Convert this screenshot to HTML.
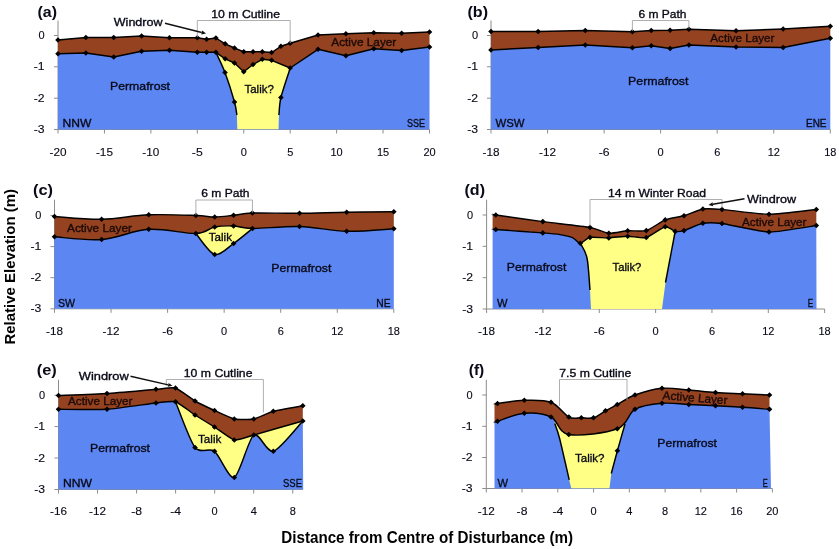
<!DOCTYPE html>
<html><head><meta charset="utf-8"><title>Figure</title>
<style>
html,body{margin:0;padding:0;background:#fff}
svg{display:block}
svg text{font-family:"Liberation Sans", sans-serif}
</style></head><body>
<svg width="839" height="549" viewBox="0 0 839 549">
<rect width="839" height="549" fill="#fff"/>
<path d="M58 20.5V129.5H429.5M54 35.5H58M54 66.8H58M54 98.2H58M54 129.5H58M58 129.5V133.5M104.44 129.5V133.5M150.88 129.5V133.5M197.31 129.5V133.5M243.75 129.5V133.5M290.19 129.5V133.5M336.62 129.5V133.5M383.06 129.5V133.5M429.5 129.5V133.5" fill="none" stroke="#8c8c8c" stroke-width="1"/>
<path d="M58 53.8 C58 53.8 85.86 53 85.86 53 C85.86 53 113.72 57 113.72 57 C113.72 57 141.59 51.3 141.59 51.3 C141.59 51.3 169.45 50.3 169.45 50.3 C169.45 50.3 197.31 52.3 197.31 52.3 C197.31 52.3 206.6 52.3 206.6 52.3 C206.6 52.3 215.89 52.3 215.89 52.3 C215.89 52.3 225.17 58.8 225.17 58.8 C225.17 58.8 234.46 63 234.46 63 C234.46 63 243.75 71.8 243.75 71.8 C243.75 71.8 253.04 64.5 253.04 64.5 C253.04 64.5 262.32 59.3 262.32 59.3 C262.32 59.3 271.61 60.3 271.61 60.3 C271.61 60.3 290.19 68 290.19 68 C290.19 68 318.05 49.3 318.05 49.3 C318.05 49.3 345.91 55.8 345.91 55.8 C345.91 55.8 373.77 48.8 373.77 48.8 C373.77 48.8 401.64 50.5 401.64 50.5 C401.64 50.5 429.5 47 429.5 47 L429.5 129.5 L58 129.5 Z" fill="#5C86F2"/>
<clipPath id="cp1"><path d="M58 53.8 C58 53.8 85.86 53 85.86 53 C85.86 53 113.72 57 113.72 57 C113.72 57 141.59 51.3 141.59 51.3 C141.59 51.3 169.45 50.3 169.45 50.3 C169.45 50.3 197.31 52.3 197.31 52.3 C197.31 52.3 206.6 52.3 206.6 52.3 C206.6 52.3 215.89 52.3 215.89 52.3 C215.89 52.3 225.17 58.8 225.17 58.8 C225.17 58.8 234.46 63 234.46 63 C234.46 63 243.75 71.8 243.75 71.8 C243.75 71.8 253.04 64.5 253.04 64.5 C253.04 64.5 262.32 59.3 262.32 59.3 C262.32 59.3 271.61 60.3 271.61 60.3 C271.61 60.3 290.19 68 290.19 68 C290.19 68 318.05 49.3 318.05 49.3 C318.05 49.3 345.91 55.8 345.91 55.8 C345.91 55.8 373.77 48.8 373.77 48.8 C373.77 48.8 401.64 50.5 401.64 50.5 C401.64 50.5 429.5 47 429.5 47 L429.5 129.5 L58 129.5 Z"/></clipPath>
<path d="M215.9 52.3 C217.11 54.99 222.52 65.87 225 72.5 C227.48 79.13 232.91 96.33 234.5 102 C236.09 107.67 236.58 113.27 236.9 115 L237.3 129.5 L278.6 129.5 L278.9 115 C279.17 112.67 279.39 103.77 280.9 97.5 C282.41 91.23 288.96 71.93 290.2 68 L290 40 L216 40 Z" fill="#FFFF85" clip-path="url(#cp1)"/>
<path d="M58 40 C58 40 85.86 37.5 85.86 37.5 C85.86 37.5 113.72 37.5 113.72 37.5 C113.72 37.5 141.59 36 141.59 36 C141.59 36 169.45 37.8 169.45 37.8 C169.45 37.8 197.31 37.8 197.31 37.8 C197.31 37.8 206.6 39.3 206.6 39.3 C206.6 39.3 215.89 38 215.89 38 C215.89 38 225.17 43.8 225.17 43.8 C225.17 43.8 234.46 48 234.46 48 C234.46 48 243.75 51.8 243.75 51.8 C243.75 51.8 253.04 51.8 253.04 51.8 C253.04 51.8 262.32 51.8 262.32 51.8 C262.32 51.8 271.61 52.5 271.61 52.5 C271.61 52.5 280.9 46.3 280.9 46.3 C280.9 46.3 290.19 43.3 290.19 43.3 C290.19 43.3 318.05 35 318.05 35 C318.05 35 345.91 33.8 345.91 33.8 C345.91 33.8 373.77 32.8 373.77 32.8 C373.77 32.8 401.64 33.3 401.64 33.3 C401.64 33.3 429.5 32 429.5 32 L429.5 47 C429.5 47 401.64 50.5 401.64 50.5 C401.64 50.5 373.77 48.8 373.77 48.8 C373.77 48.8 345.91 55.8 345.91 55.8 C345.91 55.8 318.05 49.3 318.05 49.3 C318.05 49.3 290.19 68 290.19 68 C290.19 68 271.61 60.3 271.61 60.3 C271.61 60.3 262.32 59.3 262.32 59.3 C262.32 59.3 253.04 64.5 253.04 64.5 C253.04 64.5 243.75 71.8 243.75 71.8 C243.75 71.8 234.46 63 234.46 63 C234.46 63 225.17 58.8 225.17 58.8 C225.17 58.8 215.89 52.3 215.89 52.3 C215.89 52.3 206.6 52.3 206.6 52.3 C206.6 52.3 197.31 52.3 197.31 52.3 C197.31 52.3 169.45 50.3 169.45 50.3 C169.45 50.3 141.59 51.3 141.59 51.3 C141.59 51.3 113.72 57 113.72 57 C113.72 57 85.86 53 85.86 53 C85.86 53 58 53.8 58 53.8 Z" fill="#94421F"/>
<path d="M215.9 52.3 C217.11 54.99 222.52 65.87 225 72.5 C227.48 79.13 232.91 96.33 234.5 102 C236.09 107.67 236.58 113.27 236.9 115" fill="none" stroke="#000" stroke-width="1.45" stroke-linejoin="round"/>
<path d="M290.2 68 C288.96 71.93 282.41 91.23 280.9 97.5 C279.39 103.77 279.17 112.67 278.9 115" fill="none" stroke="#000" stroke-width="1.45" stroke-linejoin="round"/>
<path d="M58 40 C58 40 85.86 37.5 85.86 37.5 C85.86 37.5 113.72 37.5 113.72 37.5 C113.72 37.5 141.59 36 141.59 36 C141.59 36 169.45 37.8 169.45 37.8 C169.45 37.8 197.31 37.8 197.31 37.8 C197.31 37.8 206.6 39.3 206.6 39.3 C206.6 39.3 215.89 38 215.89 38 C215.89 38 225.17 43.8 225.17 43.8 C225.17 43.8 234.46 48 234.46 48 C234.46 48 243.75 51.8 243.75 51.8 C243.75 51.8 253.04 51.8 253.04 51.8 C253.04 51.8 262.32 51.8 262.32 51.8 C262.32 51.8 271.61 52.5 271.61 52.5 C271.61 52.5 280.9 46.3 280.9 46.3 C280.9 46.3 290.19 43.3 290.19 43.3 C290.19 43.3 318.05 35 318.05 35 C318.05 35 345.91 33.8 345.91 33.8 C345.91 33.8 373.77 32.8 373.77 32.8 C373.77 32.8 401.64 33.3 401.64 33.3 C401.64 33.3 429.5 32 429.5 32" fill="none" stroke="#000" stroke-width="1.45" stroke-linejoin="round"/>
<path d="M58 53.8 C58 53.8 85.86 53 85.86 53 C85.86 53 113.72 57 113.72 57 C113.72 57 141.59 51.3 141.59 51.3 C141.59 51.3 169.45 50.3 169.45 50.3 C169.45 50.3 197.31 52.3 197.31 52.3 C197.31 52.3 206.6 52.3 206.6 52.3 C206.6 52.3 215.89 52.3 215.89 52.3 C215.89 52.3 225.17 58.8 225.17 58.8 C225.17 58.8 234.46 63 234.46 63 C234.46 63 243.75 71.8 243.75 71.8 C243.75 71.8 253.04 64.5 253.04 64.5 C253.04 64.5 262.32 59.3 262.32 59.3 C262.32 59.3 271.61 60.3 271.61 60.3 C271.61 60.3 290.19 68 290.19 68 C290.19 68 318.05 49.3 318.05 49.3 C318.05 49.3 345.91 55.8 345.91 55.8 C345.91 55.8 373.77 48.8 373.77 48.8 C373.77 48.8 401.64 50.5 401.64 50.5 C401.64 50.5 429.5 47 429.5 47" fill="none" stroke="#000" stroke-width="1.45" stroke-linejoin="round"/>
<path d="M55.2 40l2.8 -2.8l2.8 2.8l-2.8 2.8zM83.06 37.5l2.8 -2.8l2.8 2.8l-2.8 2.8zM110.92 37.5l2.8 -2.8l2.8 2.8l-2.8 2.8zM138.79 36l2.8 -2.8l2.8 2.8l-2.8 2.8zM166.65 37.8l2.8 -2.8l2.8 2.8l-2.8 2.8zM194.51 37.8l2.8 -2.8l2.8 2.8l-2.8 2.8zM203.8 39.3l2.8 -2.8l2.8 2.8l-2.8 2.8zM213.09 38l2.8 -2.8l2.8 2.8l-2.8 2.8zM222.37 43.8l2.8 -2.8l2.8 2.8l-2.8 2.8zM231.66 48l2.8 -2.8l2.8 2.8l-2.8 2.8zM240.95 51.8l2.8 -2.8l2.8 2.8l-2.8 2.8zM250.24 51.8l2.8 -2.8l2.8 2.8l-2.8 2.8zM259.52 51.8l2.8 -2.8l2.8 2.8l-2.8 2.8zM268.81 52.5l2.8 -2.8l2.8 2.8l-2.8 2.8zM278.1 46.3l2.8 -2.8l2.8 2.8l-2.8 2.8zM287.39 43.3l2.8 -2.8l2.8 2.8l-2.8 2.8zM315.25 35l2.8 -2.8l2.8 2.8l-2.8 2.8zM343.11 33.8l2.8 -2.8l2.8 2.8l-2.8 2.8zM370.97 32.8l2.8 -2.8l2.8 2.8l-2.8 2.8zM398.84 33.3l2.8 -2.8l2.8 2.8l-2.8 2.8zM426.7 32l2.8 -2.8l2.8 2.8l-2.8 2.8zM55.2 53.8l2.8 -2.8l2.8 2.8l-2.8 2.8zM83.06 53l2.8 -2.8l2.8 2.8l-2.8 2.8zM110.92 57l2.8 -2.8l2.8 2.8l-2.8 2.8zM138.79 51.3l2.8 -2.8l2.8 2.8l-2.8 2.8zM166.65 50.3l2.8 -2.8l2.8 2.8l-2.8 2.8zM194.51 52.3l2.8 -2.8l2.8 2.8l-2.8 2.8zM203.8 52.3l2.8 -2.8l2.8 2.8l-2.8 2.8zM213.09 52.3l2.8 -2.8l2.8 2.8l-2.8 2.8zM222.37 58.8l2.8 -2.8l2.8 2.8l-2.8 2.8zM231.66 63l2.8 -2.8l2.8 2.8l-2.8 2.8zM240.95 71.8l2.8 -2.8l2.8 2.8l-2.8 2.8zM250.24 64.5l2.8 -2.8l2.8 2.8l-2.8 2.8zM259.52 59.3l2.8 -2.8l2.8 2.8l-2.8 2.8zM268.81 60.3l2.8 -2.8l2.8 2.8l-2.8 2.8zM287.39 68l2.8 -2.8l2.8 2.8l-2.8 2.8zM315.25 49.3l2.8 -2.8l2.8 2.8l-2.8 2.8zM343.11 55.8l2.8 -2.8l2.8 2.8l-2.8 2.8zM370.97 48.8l2.8 -2.8l2.8 2.8l-2.8 2.8zM398.84 50.5l2.8 -2.8l2.8 2.8l-2.8 2.8zM426.7 47l2.8 -2.8l2.8 2.8l-2.8 2.8zM222.2 72.5l2.8 -2.8l2.8 2.8l-2.8 2.8zM231.7 102l2.8 -2.8l2.8 2.8l-2.8 2.8zM278.1 97.5l2.8 -2.8l2.8 2.8l-2.8 2.8z" fill="#000"/>
<path d="M197.3 37V20.5H290.2V43" fill="none" stroke="#a6a6a6" stroke-width="0.9"/>
<path d="M165 23.3L201.73 32.53" stroke="#111" stroke-width="1.4" fill="none"/>
<path d="M206 33.6L201.25 34.47L202.22 30.59z" fill="#111"/>
<text x="37.5" y="17" font-size="15" fill="#0a0a18" font-weight="bold" textLength="19.5" lengthAdjust="spacingAndGlyphs">(a)</text>
<text x="113.8" y="26.2" font-size="11.7" fill="#0a0a18" stroke="#0a0a18" stroke-width="0.35" textLength="48.7" lengthAdjust="spacingAndGlyphs">Windrow</text>
<text x="211.3" y="18.4" font-size="11.7" fill="#0a0a18" stroke="#0a0a18" stroke-width="0.35" textLength="68.7" lengthAdjust="spacingAndGlyphs">10 m Cutline</text>
<text x="331.3" y="45.9" font-size="11.7" fill="#1c0a08" stroke="#1c0a08" stroke-width="0.35" textLength="65" lengthAdjust="spacingAndGlyphs">Active Layer</text>
<text x="110" y="90.4" font-size="11.7" fill="#0a0a18" stroke="#0a0a18" stroke-width="0.35" textLength="60" lengthAdjust="spacingAndGlyphs">Permafrost</text>
<text x="244.5" y="93.4" font-size="11.7" fill="#0a0a18" stroke="#0a0a18" stroke-width="0.35" textLength="29.3" lengthAdjust="spacingAndGlyphs">Talik?</text>
<text x="62.5" y="127.4" font-size="11.7" fill="#0a0a18" stroke="#0a0a18" stroke-width="0.35" textLength="28.8" lengthAdjust="spacingAndGlyphs">NNW</text>
<text x="407" y="126.7" font-size="11.7" fill="#0a0a18" stroke="#0a0a18" stroke-width="0.35" textLength="18" lengthAdjust="spacingAndGlyphs">SSE</text>
<text x="38.38" y="39" font-size="11" fill="#0a0a18" stroke="#0a0a18" stroke-width="0.12" textLength="6.12" lengthAdjust="spacingAndGlyphs">0</text>
<text x="33.65" y="70.3" font-size="11" fill="#0a0a18" stroke="#0a0a18" stroke-width="0.12" textLength="10.85" lengthAdjust="spacingAndGlyphs">-1</text>
<text x="33.65" y="101.7" font-size="11" fill="#0a0a18" stroke="#0a0a18" stroke-width="0.12" textLength="10.85" lengthAdjust="spacingAndGlyphs">-2</text>
<text x="33.65" y="133" font-size="11" fill="#0a0a18" stroke="#0a0a18" stroke-width="0.12" textLength="10.85" lengthAdjust="spacingAndGlyphs">-3</text>
<text x="49.52" y="155.9" font-size="11" fill="#0a0a18" stroke="#0a0a18" stroke-width="0.12" textLength="16.96" lengthAdjust="spacingAndGlyphs">-20</text>
<text x="95.96" y="155.9" font-size="11" fill="#0a0a18" stroke="#0a0a18" stroke-width="0.12" textLength="16.96" lengthAdjust="spacingAndGlyphs">-15</text>
<text x="142.39" y="155.9" font-size="11" fill="#0a0a18" stroke="#0a0a18" stroke-width="0.12" textLength="16.96" lengthAdjust="spacingAndGlyphs">-10</text>
<text x="191.89" y="155.9" font-size="11" fill="#0a0a18" stroke="#0a0a18" stroke-width="0.12" textLength="10.85" lengthAdjust="spacingAndGlyphs">-5</text>
<text x="240.69" y="155.9" font-size="11" fill="#0a0a18" stroke="#0a0a18" stroke-width="0.12" textLength="6.12" lengthAdjust="spacingAndGlyphs">0</text>
<text x="287.13" y="155.9" font-size="11" fill="#0a0a18" stroke="#0a0a18" stroke-width="0.12" textLength="6.12" lengthAdjust="spacingAndGlyphs">5</text>
<text x="330.51" y="155.9" font-size="11" fill="#0a0a18" stroke="#0a0a18" stroke-width="0.12" textLength="12.23" lengthAdjust="spacingAndGlyphs">10</text>
<text x="376.95" y="155.9" font-size="11" fill="#0a0a18" stroke="#0a0a18" stroke-width="0.12" textLength="12.23" lengthAdjust="spacingAndGlyphs">15</text>
<text x="423.38" y="155.9" font-size="11" fill="#0a0a18" stroke="#0a0a18" stroke-width="0.12" textLength="12.23" lengthAdjust="spacingAndGlyphs">20</text>
<path d="M491 20.5V129.5H830.3M487 35.5H491M487 66.8H491M487 98.2H491M487 129.5H491M491 129.5V133.5M547.55 129.5V133.5M604.1 129.5V133.5M660.65 129.5V133.5M717.2 129.5V133.5M773.75 129.5V133.5M830.3 129.5V133.5" fill="none" stroke="#8c8c8c" stroke-width="1"/>
<path d="M491 50 C491 50 538.12 47.5 538.12 47.5 C538.12 47.5 585.25 45 585.25 45 C585.25 45 632.38 47.8 632.38 47.8 C632.38 47.8 651.23 45.8 651.23 45.8 C651.23 45.8 670.08 48.5 670.08 48.5 C670.08 48.5 688.92 45 688.92 45 C688.92 45 736.05 47 736.05 47 C736.05 47 783.17 47.5 783.17 47.5 C783.17 47.5 830.3 38.3 830.3 38.3 L830.3 129.5 L491 129.5 Z" fill="#5C86F2"/>
<path d="M491 31.5 C491 31.5 538.12 31.5 538.12 31.5 C538.12 31.5 585.25 30.5 585.25 30.5 C585.25 30.5 632.38 31.8 632.38 31.8 C632.38 31.8 651.23 30.5 651.23 30.5 C651.23 30.5 670.08 30.3 670.08 30.3 C670.08 30.3 688.92 29.3 688.92 29.3 C688.92 29.3 736.05 30.8 736.05 30.8 C736.05 30.8 783.17 29 783.17 29 C783.17 29 830.3 26.3 830.3 26.3 L830.3 38.3 C830.3 38.3 783.17 47.5 783.17 47.5 C783.17 47.5 736.05 47 736.05 47 C736.05 47 688.92 45 688.92 45 C688.92 45 670.08 48.5 670.08 48.5 C670.08 48.5 651.23 45.8 651.23 45.8 C651.23 45.8 632.38 47.8 632.38 47.8 C632.38 47.8 585.25 45 585.25 45 C585.25 45 538.12 47.5 538.12 47.5 C538.12 47.5 491 50 491 50 Z" fill="#94421F"/>
<path d="M491 31.5 C491 31.5 538.12 31.5 538.12 31.5 C538.12 31.5 585.25 30.5 585.25 30.5 C585.25 30.5 632.38 31.8 632.38 31.8 C632.38 31.8 651.23 30.5 651.23 30.5 C651.23 30.5 670.08 30.3 670.08 30.3 C670.08 30.3 688.92 29.3 688.92 29.3 C688.92 29.3 736.05 30.8 736.05 30.8 C736.05 30.8 783.17 29 783.17 29 C783.17 29 830.3 26.3 830.3 26.3" fill="none" stroke="#000" stroke-width="1.45" stroke-linejoin="round"/>
<path d="M491 50 C491 50 538.12 47.5 538.12 47.5 C538.12 47.5 585.25 45 585.25 45 C585.25 45 632.38 47.8 632.38 47.8 C632.38 47.8 651.23 45.8 651.23 45.8 C651.23 45.8 670.08 48.5 670.08 48.5 C670.08 48.5 688.92 45 688.92 45 C688.92 45 736.05 47 736.05 47 C736.05 47 783.17 47.5 783.17 47.5 C783.17 47.5 830.3 38.3 830.3 38.3" fill="none" stroke="#000" stroke-width="1.45" stroke-linejoin="round"/>
<path d="M488.2 31.5l2.8 -2.8l2.8 2.8l-2.8 2.8zM535.33 31.5l2.8 -2.8l2.8 2.8l-2.8 2.8zM582.45 30.5l2.8 -2.8l2.8 2.8l-2.8 2.8zM629.58 31.8l2.8 -2.8l2.8 2.8l-2.8 2.8zM648.43 30.5l2.8 -2.8l2.8 2.8l-2.8 2.8zM667.28 30.3l2.8 -2.8l2.8 2.8l-2.8 2.8zM686.12 29.3l2.8 -2.8l2.8 2.8l-2.8 2.8zM733.25 30.8l2.8 -2.8l2.8 2.8l-2.8 2.8zM780.38 29l2.8 -2.8l2.8 2.8l-2.8 2.8zM827.5 26.3l2.8 -2.8l2.8 2.8l-2.8 2.8zM488.2 50l2.8 -2.8l2.8 2.8l-2.8 2.8zM535.33 47.5l2.8 -2.8l2.8 2.8l-2.8 2.8zM582.45 45l2.8 -2.8l2.8 2.8l-2.8 2.8zM629.58 47.8l2.8 -2.8l2.8 2.8l-2.8 2.8zM648.43 45.8l2.8 -2.8l2.8 2.8l-2.8 2.8zM667.28 48.5l2.8 -2.8l2.8 2.8l-2.8 2.8zM686.12 45l2.8 -2.8l2.8 2.8l-2.8 2.8zM733.25 47l2.8 -2.8l2.8 2.8l-2.8 2.8zM780.38 47.5l2.8 -2.8l2.8 2.8l-2.8 2.8zM827.5 38.3l2.8 -2.8l2.8 2.8l-2.8 2.8z" fill="#000"/>
<path d="M632.4 31V20.5H688.9V28.5" fill="none" stroke="#a6a6a6" stroke-width="0.9"/>
<text x="467.5" y="17" font-size="15" fill="#0a0a18" font-weight="bold" textLength="20.5" lengthAdjust="spacingAndGlyphs">(b)</text>
<text x="638.5" y="18.4" font-size="11.7" fill="#0a0a18" stroke="#0a0a18" stroke-width="0.35" textLength="48" lengthAdjust="spacingAndGlyphs">6 m Path</text>
<text x="710.3" y="42.4" font-size="11.7" fill="#1c0a08" stroke="#1c0a08" stroke-width="0.35" textLength="64.2" lengthAdjust="spacingAndGlyphs">Active Layer</text>
<text x="628" y="85.4" font-size="11.7" fill="#0a0a18" stroke="#0a0a18" stroke-width="0.35" textLength="60.5" lengthAdjust="spacingAndGlyphs">Permafrost</text>
<text x="495.5" y="126.7" font-size="11.7" fill="#0a0a18" stroke="#0a0a18" stroke-width="0.35" textLength="29" lengthAdjust="spacingAndGlyphs">WSW</text>
<text x="806" y="126.7" font-size="11.7" fill="#0a0a18" stroke="#0a0a18" stroke-width="0.35" textLength="20.5" lengthAdjust="spacingAndGlyphs">ENE</text>
<text x="471.88" y="39" font-size="11" fill="#0a0a18" stroke="#0a0a18" stroke-width="0.12" textLength="6.12" lengthAdjust="spacingAndGlyphs">0</text>
<text x="467.15" y="70.3" font-size="11" fill="#0a0a18" stroke="#0a0a18" stroke-width="0.12" textLength="10.85" lengthAdjust="spacingAndGlyphs">-1</text>
<text x="467.15" y="101.7" font-size="11" fill="#0a0a18" stroke="#0a0a18" stroke-width="0.12" textLength="10.85" lengthAdjust="spacingAndGlyphs">-2</text>
<text x="467.15" y="133" font-size="11" fill="#0a0a18" stroke="#0a0a18" stroke-width="0.12" textLength="10.85" lengthAdjust="spacingAndGlyphs">-3</text>
<text x="482.52" y="155.9" font-size="11" fill="#0a0a18" stroke="#0a0a18" stroke-width="0.12" textLength="16.96" lengthAdjust="spacingAndGlyphs">-18</text>
<text x="539.07" y="155.9" font-size="11" fill="#0a0a18" stroke="#0a0a18" stroke-width="0.12" textLength="16.96" lengthAdjust="spacingAndGlyphs">-12</text>
<text x="598.68" y="155.9" font-size="11" fill="#0a0a18" stroke="#0a0a18" stroke-width="0.12" textLength="10.85" lengthAdjust="spacingAndGlyphs">-6</text>
<text x="657.59" y="155.9" font-size="11" fill="#0a0a18" stroke="#0a0a18" stroke-width="0.12" textLength="6.12" lengthAdjust="spacingAndGlyphs">0</text>
<text x="714.14" y="155.9" font-size="11" fill="#0a0a18" stroke="#0a0a18" stroke-width="0.12" textLength="6.12" lengthAdjust="spacingAndGlyphs">6</text>
<text x="767.63" y="155.9" font-size="11" fill="#0a0a18" stroke="#0a0a18" stroke-width="0.12" textLength="12.23" lengthAdjust="spacingAndGlyphs">12</text>
<text x="824.18" y="155.9" font-size="11" fill="#0a0a18" stroke="#0a0a18" stroke-width="0.12" textLength="12.23" lengthAdjust="spacingAndGlyphs">18</text>
<path d="M54.5 199.7V308.8H393.8M50.5 215.5H54.5M50.5 246.6H54.5M50.5 277.7H54.5M50.5 308.8H54.5M54.5 308.8V312.8M111.05 308.8V312.8M167.6 308.8V312.8M224.15 308.8V312.8M280.7 308.8V312.8M337.25 308.8V312.8M393.8 308.8V312.8" fill="none" stroke="#8c8c8c" stroke-width="1"/>
<path d="M54.5 236.8 C62.35 237.25 85.92 240.75 101.62 239.5 C117.33 238.25 133.04 230.3 148.75 229.3 C164.46 228.3 184.88 233.88 195.88 233.5 C206.87 233.12 208.44 228.25 214.73 227 C221.01 225.75 227.29 225.75 233.58 226 C239.86 226.25 241.43 228.42 252.43 228.5 C263.42 228.58 283.84 226.03 299.55 226.5 C315.26 226.97 330.97 230.92 346.68 231.3 C362.38 231.68 385.95 229.22 393.8 228.8 L393.8 308.8 L54.5 308.8 Z" fill="#5C86F2"/>
<clipPath id="cp3"><path d="M54.5 236.8 C62.35 237.25 85.92 240.75 101.62 239.5 C117.33 238.25 133.04 230.3 148.75 229.3 C164.46 228.3 184.88 233.88 195.88 233.5 C206.87 233.12 208.44 228.25 214.73 227 C221.01 225.75 227.29 225.75 233.58 226 C239.86 226.25 241.43 228.42 252.43 228.5 C263.42 228.58 283.84 226.03 299.55 226.5 C315.26 226.97 330.97 230.92 346.68 231.3 C362.38 231.68 385.95 229.22 393.8 228.8 L393.8 308.8 L54.5 308.8 Z"/></clipPath>
<path d="M195.88 233.5 C198.7 236.65 209.07 253 214.73 254.5 C220.38 256 227.92 247.4 233.58 243.5 C239.23 239.6 249.6 230.75 252.43 228.5 L252.43 220 L195.88 220 Z" fill="#FFFF85" clip-path="url(#cp3)"/>
<path d="M54.5 216.5 C62.35 216.97 85.92 219.58 101.62 219.3 C117.33 219.02 133.04 215.43 148.75 214.8 C164.46 214.17 184.88 215.13 195.88 215.5 C206.87 215.87 208.44 217.03 214.73 217 C221.01 216.97 227.29 215.97 233.58 215.3 C239.86 214.63 241.43 213.33 252.43 213 C263.42 212.67 283.84 213.43 299.55 213.3 C315.26 213.17 330.97 212.45 346.68 212.2 C362.38 211.95 385.95 211.87 393.8 211.8 L393.8 228.8 C385.95 229.22 362.38 231.68 346.68 231.3 C330.97 230.92 315.26 226.97 299.55 226.5 C283.84 226.03 263.42 228.58 252.43 228.5 C241.43 228.42 239.86 226.25 233.58 226 C227.29 225.75 221.01 225.75 214.73 227 C208.44 228.25 206.87 233.12 195.88 233.5 C184.88 233.88 164.46 228.3 148.75 229.3 C133.04 230.3 117.33 238.25 101.62 239.5 C85.92 240.75 62.35 237.25 54.5 236.8 Z" fill="#94421F"/>
<path d="M195.88 233.5 C198.7 236.65 209.07 253 214.73 254.5 C220.38 256 227.92 247.4 233.58 243.5 C239.23 239.6 249.6 230.75 252.43 228.5" fill="none" stroke="#000" stroke-width="1.45" stroke-linejoin="round"/>
<path d="M54.5 216.5 C62.35 216.97 85.92 219.58 101.62 219.3 C117.33 219.02 133.04 215.43 148.75 214.8 C164.46 214.17 184.88 215.13 195.88 215.5 C206.87 215.87 208.44 217.03 214.73 217 C221.01 216.97 227.29 215.97 233.58 215.3 C239.86 214.63 241.43 213.33 252.43 213 C263.42 212.67 283.84 213.43 299.55 213.3 C315.26 213.17 330.97 212.45 346.68 212.2 C362.38 211.95 385.95 211.87 393.8 211.8" fill="none" stroke="#000" stroke-width="1.45" stroke-linejoin="round"/>
<path d="M54.5 236.8 C62.35 237.25 85.92 240.75 101.62 239.5 C117.33 238.25 133.04 230.3 148.75 229.3 C164.46 228.3 184.88 233.88 195.88 233.5 C206.87 233.12 208.44 228.25 214.73 227 C221.01 225.75 227.29 225.75 233.58 226 C239.86 226.25 241.43 228.42 252.43 228.5 C263.42 228.58 283.84 226.03 299.55 226.5 C315.26 226.97 330.97 230.92 346.68 231.3 C362.38 231.68 385.95 229.22 393.8 228.8" fill="none" stroke="#000" stroke-width="1.45" stroke-linejoin="round"/>
<path d="M51.7 216.5l2.8 -2.8l2.8 2.8l-2.8 2.8zM98.83 219.3l2.8 -2.8l2.8 2.8l-2.8 2.8zM145.95 214.8l2.8 -2.8l2.8 2.8l-2.8 2.8zM193.07 215.5l2.8 -2.8l2.8 2.8l-2.8 2.8zM211.93 217l2.8 -2.8l2.8 2.8l-2.8 2.8zM230.78 215.3l2.8 -2.8l2.8 2.8l-2.8 2.8zM249.62 213l2.8 -2.8l2.8 2.8l-2.8 2.8zM296.75 213.3l2.8 -2.8l2.8 2.8l-2.8 2.8zM343.88 212.2l2.8 -2.8l2.8 2.8l-2.8 2.8zM391 211.8l2.8 -2.8l2.8 2.8l-2.8 2.8zM51.7 236.8l2.8 -2.8l2.8 2.8l-2.8 2.8zM98.83 239.5l2.8 -2.8l2.8 2.8l-2.8 2.8zM145.95 229.3l2.8 -2.8l2.8 2.8l-2.8 2.8zM193.07 233.5l2.8 -2.8l2.8 2.8l-2.8 2.8zM211.93 227l2.8 -2.8l2.8 2.8l-2.8 2.8zM230.78 226l2.8 -2.8l2.8 2.8l-2.8 2.8zM249.62 228.5l2.8 -2.8l2.8 2.8l-2.8 2.8zM296.75 226.5l2.8 -2.8l2.8 2.8l-2.8 2.8zM343.88 231.3l2.8 -2.8l2.8 2.8l-2.8 2.8zM391 228.8l2.8 -2.8l2.8 2.8l-2.8 2.8zM211.93 254.5l2.8 -2.8l2.8 2.8l-2.8 2.8zM230.78 243.5l2.8 -2.8l2.8 2.8l-2.8 2.8z" fill="#000"/>
<path d="M195.88 215V200H252.43V212.5" fill="none" stroke="#a6a6a6" stroke-width="0.9"/>
<text x="33" y="195" font-size="15" fill="#0a0a18" font-weight="bold" textLength="20" lengthAdjust="spacingAndGlyphs">(c)</text>
<text x="201.3" y="197.4" font-size="11.7" fill="#0a0a18" stroke="#0a0a18" stroke-width="0.35" textLength="48.2" lengthAdjust="spacingAndGlyphs">6 m Path</text>
<text x="67" y="231.7" font-size="11.7" fill="#1c0a08" stroke="#1c0a08" stroke-width="0.35" textLength="65" lengthAdjust="spacingAndGlyphs">Active Layer</text>
<text x="208.8" y="241.2" font-size="11.7" fill="#0a0a18" stroke="#0a0a18" stroke-width="0.35" textLength="23.2" lengthAdjust="spacingAndGlyphs">Talik</text>
<text x="271.3" y="272.4" font-size="11.7" fill="#0a0a18" stroke="#0a0a18" stroke-width="0.35" textLength="60" lengthAdjust="spacingAndGlyphs">Permafrost</text>
<text x="58" y="306.9" font-size="11.7" fill="#0a0a18" stroke="#0a0a18" stroke-width="0.35" textLength="17" lengthAdjust="spacingAndGlyphs">SW</text>
<text x="376.3" y="307.4" font-size="11.7" fill="#0a0a18" stroke="#0a0a18" stroke-width="0.35" textLength="14.2" lengthAdjust="spacingAndGlyphs">NE</text>
<text x="35.18" y="219" font-size="11" fill="#0a0a18" stroke="#0a0a18" stroke-width="0.12" textLength="6.12" lengthAdjust="spacingAndGlyphs">0</text>
<text x="30.45" y="250.1" font-size="11" fill="#0a0a18" stroke="#0a0a18" stroke-width="0.12" textLength="10.85" lengthAdjust="spacingAndGlyphs">-1</text>
<text x="30.45" y="281.2" font-size="11" fill="#0a0a18" stroke="#0a0a18" stroke-width="0.12" textLength="10.85" lengthAdjust="spacingAndGlyphs">-2</text>
<text x="30.45" y="312.3" font-size="11" fill="#0a0a18" stroke="#0a0a18" stroke-width="0.12" textLength="10.85" lengthAdjust="spacingAndGlyphs">-3</text>
<text x="46.02" y="334.6" font-size="11" fill="#0a0a18" stroke="#0a0a18" stroke-width="0.12" textLength="16.96" lengthAdjust="spacingAndGlyphs">-18</text>
<text x="102.57" y="334.6" font-size="11" fill="#0a0a18" stroke="#0a0a18" stroke-width="0.12" textLength="16.96" lengthAdjust="spacingAndGlyphs">-12</text>
<text x="162.18" y="334.6" font-size="11" fill="#0a0a18" stroke="#0a0a18" stroke-width="0.12" textLength="10.85" lengthAdjust="spacingAndGlyphs">-6</text>
<text x="221.09" y="334.6" font-size="11" fill="#0a0a18" stroke="#0a0a18" stroke-width="0.12" textLength="6.12" lengthAdjust="spacingAndGlyphs">0</text>
<text x="277.64" y="334.6" font-size="11" fill="#0a0a18" stroke="#0a0a18" stroke-width="0.12" textLength="6.12" lengthAdjust="spacingAndGlyphs">6</text>
<text x="331.13" y="334.6" font-size="11" fill="#0a0a18" stroke="#0a0a18" stroke-width="0.12" textLength="12.23" lengthAdjust="spacingAndGlyphs">12</text>
<text x="387.68" y="334.6" font-size="11" fill="#0a0a18" stroke="#0a0a18" stroke-width="0.12" textLength="12.23" lengthAdjust="spacingAndGlyphs">18</text>
<path d="M486.6 199.7V309H824.64M482.6 215H486.6M482.6 246.3H486.6M482.6 277.7H486.6M482.6 309H486.6M486.6 309V313M542.94 309V313M599.28 309V313M655.62 309V313M711.96 309V313M768.3 309V313M824.64 309V313" fill="none" stroke="#8c8c8c" stroke-width="1"/>
<path d="M492.6 229.3 C492.92 229.32 490.78 229.14 495.8 229.5 C500.82 229.86 536.38 232.39 542.8 232.9 C549.22 233.41 557.03 234.13 560 234.6 C562.97 235.07 570.47 236.73 572.5 237.6 C574.53 238.47 578.55 243.32 580.3 243.3 C582.05 243.28 587.15 237.94 590 237.4 C592.85 236.86 605.03 238.02 608.8 237.9 C612.57 237.78 623.95 236.24 627.7 236.2 C631.45 236.16 642.55 238.44 646.3 237.5 C650.05 236.56 662.31 227.41 665.2 226.8 C668.09 226.19 673.32 231.02 675.2 231.4 C677.08 231.78 681.23 231.41 684 230.6 C686.77 229.79 699.1 224.01 702.9 223.3 C706.7 222.59 715.39 222.63 722 223.5 C728.61 224.37 759.57 231.8 769 232 C778.43 232.2 811.57 226.15 816.3 225.5 L816.5 309 L492.6 309 Z" fill="#5C86F2"/>
<clipPath id="cp4"><path d="M492.6 229.3 C492.92 229.32 490.78 229.14 495.8 229.5 C500.82 229.86 536.38 232.39 542.8 232.9 C549.22 233.41 557.03 234.13 560 234.6 C562.97 235.07 570.47 236.73 572.5 237.6 C574.53 238.47 578.55 243.32 580.3 243.3 C582.05 243.28 587.15 237.94 590 237.4 C592.85 236.86 605.03 238.02 608.8 237.9 C612.57 237.78 623.95 236.24 627.7 236.2 C631.45 236.16 642.55 238.44 646.3 237.5 C650.05 236.56 662.31 227.41 665.2 226.8 C668.09 226.19 673.32 231.02 675.2 231.4 C677.08 231.78 681.23 231.41 684 230.6 C686.77 229.79 699.1 224.01 702.9 223.3 C706.7 222.59 715.39 222.63 722 223.5 C728.61 224.37 759.57 231.8 769 232 C778.43 232.2 811.57 226.15 816.3 225.5 L816.5 309 L492.6 309 Z"/></clipPath>
<path d="M580.3 243.3 C581.42 245.75 585.38 250.22 587 258 C588.62 265.78 589.5 284.67 590 290 L591 309 L662 309 L665.5 282.5 L675.2 231.4 L675 222 L580 225 Z" fill="#FFFF85" clip-path="url(#cp4)"/>
<path d="M492.6 214.6 C492.92 214.64 490.78 214.3 495.8 215 C500.82 215.7 533.38 220.36 542.8 221.6 C552.22 222.84 583.4 226.23 590 227.4 C596.6 228.57 605.03 232.96 608.8 233.3 C612.57 233.64 623.95 231.07 627.7 230.8 C631.45 230.53 642.55 231.69 646.3 230.6 C650.05 229.51 661.43 221.39 665.2 219.9 C668.97 218.41 680.23 216.79 684 215.7 C687.77 214.61 699.1 209.63 702.9 209 C706.7 208.37 715.39 208.87 722 209.4 C728.61 209.93 759.57 214.29 769 214.3 C778.43 214.31 811.57 209.98 816.3 209.5 L816.3 225.5 C811.57 226.15 778.43 232.2 769 232 C759.57 231.8 728.61 224.37 722 223.5 C715.39 222.63 706.7 222.59 702.9 223.3 C699.1 224.01 686.77 229.79 684 230.6 C681.23 231.41 677.08 231.78 675.2 231.4 C673.32 231.02 668.09 226.19 665.2 226.8 C662.31 227.41 650.05 236.56 646.3 237.5 C642.55 238.44 631.45 236.16 627.7 236.2 C623.95 236.24 612.57 237.78 608.8 237.9 C605.03 238.02 592.85 236.86 590 237.4 C587.15 237.94 582.05 243.28 580.3 243.3 C578.55 243.32 574.53 238.47 572.5 237.6 C570.47 236.73 562.97 235.07 560 234.6 C557.03 234.13 549.22 233.41 542.8 232.9 C536.38 232.39 500.82 229.86 495.8 229.5 C490.78 229.14 492.92 229.32 492.6 229.3 Z" fill="#94421F"/>
<path d="M580.3 243.3 C581.42 245.75 585.38 250.22 587 258 C588.62 265.78 589.5 284.67 590 290" fill="none" stroke="#000" stroke-width="1.45" stroke-linejoin="round"/>
<path d="M675.2 231.4 C675.2 231.4 665.5 282.5 665.5 282.5" fill="none" stroke="#000" stroke-width="1.45" stroke-linejoin="round"/>
<path d="M492.6 214.6 C492.92 214.64 490.78 214.3 495.8 215 C500.82 215.7 533.38 220.36 542.8 221.6 C552.22 222.84 583.4 226.23 590 227.4 C596.6 228.57 605.03 232.96 608.8 233.3 C612.57 233.64 623.95 231.07 627.7 230.8 C631.45 230.53 642.55 231.69 646.3 230.6 C650.05 229.51 661.43 221.39 665.2 219.9 C668.97 218.41 680.23 216.79 684 215.7 C687.77 214.61 699.1 209.63 702.9 209 C706.7 208.37 715.39 208.87 722 209.4 C728.61 209.93 759.57 214.29 769 214.3 C778.43 214.31 811.57 209.98 816.3 209.5" fill="none" stroke="#000" stroke-width="1.45" stroke-linejoin="round"/>
<path d="M492.6 229.3 C492.92 229.32 490.78 229.14 495.8 229.5 C500.82 229.86 536.38 232.39 542.8 232.9 C549.22 233.41 557.03 234.13 560 234.6 C562.97 235.07 570.47 236.73 572.5 237.6 C574.53 238.47 578.55 243.32 580.3 243.3 C582.05 243.28 587.15 237.94 590 237.4 C592.85 236.86 605.03 238.02 608.8 237.9 C612.57 237.78 623.95 236.24 627.7 236.2 C631.45 236.16 642.55 238.44 646.3 237.5 C650.05 236.56 662.31 227.41 665.2 226.8 C668.09 226.19 673.32 231.02 675.2 231.4 C677.08 231.78 681.23 231.41 684 230.6 C686.77 229.79 699.1 224.01 702.9 223.3 C706.7 222.59 715.39 222.63 722 223.5 C728.61 224.37 759.57 231.8 769 232 C778.43 232.2 811.57 226.15 816.3 225.5" fill="none" stroke="#000" stroke-width="1.45" stroke-linejoin="round"/>
<path d="M493 215l2.8 -2.8l2.8 2.8l-2.8 2.8zM540 221.6l2.8 -2.8l2.8 2.8l-2.8 2.8zM587.2 227.4l2.8 -2.8l2.8 2.8l-2.8 2.8zM606 233.3l2.8 -2.8l2.8 2.8l-2.8 2.8zM624.9 230.8l2.8 -2.8l2.8 2.8l-2.8 2.8zM643.5 230.6l2.8 -2.8l2.8 2.8l-2.8 2.8zM662.4 219.9l2.8 -2.8l2.8 2.8l-2.8 2.8zM681.2 215.7l2.8 -2.8l2.8 2.8l-2.8 2.8zM700.1 209l2.8 -2.8l2.8 2.8l-2.8 2.8zM719.2 209.4l2.8 -2.8l2.8 2.8l-2.8 2.8zM766.2 214.3l2.8 -2.8l2.8 2.8l-2.8 2.8zM813.5 209.5l2.8 -2.8l2.8 2.8l-2.8 2.8zM493 229.5l2.8 -2.8l2.8 2.8l-2.8 2.8zM540 232.9l2.8 -2.8l2.8 2.8l-2.8 2.8zM577.5 243.3l2.8 -2.8l2.8 2.8l-2.8 2.8zM587.2 237.4l2.8 -2.8l2.8 2.8l-2.8 2.8zM606 237.9l2.8 -2.8l2.8 2.8l-2.8 2.8zM624.9 236.2l2.8 -2.8l2.8 2.8l-2.8 2.8zM643.5 237.5l2.8 -2.8l2.8 2.8l-2.8 2.8zM662.4 226.8l2.8 -2.8l2.8 2.8l-2.8 2.8zM672.4 231.4l2.8 -2.8l2.8 2.8l-2.8 2.8zM681.2 230.6l2.8 -2.8l2.8 2.8l-2.8 2.8zM700.1 223.3l2.8 -2.8l2.8 2.8l-2.8 2.8zM719.2 223.5l2.8 -2.8l2.8 2.8l-2.8 2.8zM766.2 232l2.8 -2.8l2.8 2.8l-2.8 2.8zM813.5 225.5l2.8 -2.8l2.8 2.8l-2.8 2.8z" fill="#000"/>
<path d="M590 226V199.5H722V208" fill="none" stroke="#a6a6a6" stroke-width="0.9"/>
<path d="M744.5 198.8L712.84 204.25" stroke="#111" stroke-width="1.4" fill="none"/>
<path d="M708.5 205L712.5 202.28L713.18 206.22z" fill="#111"/>
<text x="464.5" y="195" font-size="15" fill="#0a0a18" font-weight="bold" textLength="20.5" lengthAdjust="spacingAndGlyphs">(d)</text>
<text x="608" y="196.7" font-size="11.7" fill="#0a0a18" stroke="#0a0a18" stroke-width="0.35" textLength="98" lengthAdjust="spacingAndGlyphs">14 m Winter Road</text>
<text x="747" y="202.9" font-size="11.7" fill="#0a0a18" stroke="#0a0a18" stroke-width="0.35" textLength="49" lengthAdjust="spacingAndGlyphs">Windrow</text>
<text x="742" y="225.9" font-size="11.7" fill="#1c0a08" stroke="#1c0a08" stroke-width="0.35" textLength="64.5" lengthAdjust="spacingAndGlyphs">Active Layer</text>
<text x="506.8" y="270.9" font-size="11.7" fill="#0a0a18" stroke="#0a0a18" stroke-width="0.35" textLength="59.5" lengthAdjust="spacingAndGlyphs">Permafrost</text>
<text x="612.5" y="270.9" font-size="11.7" fill="#0a0a18" stroke="#0a0a18" stroke-width="0.35" textLength="28.8" lengthAdjust="spacingAndGlyphs">Talik?</text>
<text x="497" y="306.7" font-size="11.7" fill="#0a0a18" stroke="#0a0a18" stroke-width="0.35" textLength="10.5" lengthAdjust="spacingAndGlyphs">W</text>
<text x="807.8" y="307.4" font-size="11.7" fill="#0a0a18" stroke="#0a0a18" stroke-width="0.35" textLength="5.5" lengthAdjust="spacingAndGlyphs">E</text>
<text x="466.88" y="218.5" font-size="11" fill="#0a0a18" stroke="#0a0a18" stroke-width="0.12" textLength="6.12" lengthAdjust="spacingAndGlyphs">0</text>
<text x="462.15" y="249.8" font-size="11" fill="#0a0a18" stroke="#0a0a18" stroke-width="0.12" textLength="10.85" lengthAdjust="spacingAndGlyphs">-1</text>
<text x="462.15" y="281.2" font-size="11" fill="#0a0a18" stroke="#0a0a18" stroke-width="0.12" textLength="10.85" lengthAdjust="spacingAndGlyphs">-2</text>
<text x="462.15" y="312.5" font-size="11" fill="#0a0a18" stroke="#0a0a18" stroke-width="0.12" textLength="10.85" lengthAdjust="spacingAndGlyphs">-3</text>
<text x="478.12" y="335.1" font-size="11" fill="#0a0a18" stroke="#0a0a18" stroke-width="0.12" textLength="16.96" lengthAdjust="spacingAndGlyphs">-18</text>
<text x="534.46" y="335.1" font-size="11" fill="#0a0a18" stroke="#0a0a18" stroke-width="0.12" textLength="16.96" lengthAdjust="spacingAndGlyphs">-12</text>
<text x="593.86" y="335.1" font-size="11" fill="#0a0a18" stroke="#0a0a18" stroke-width="0.12" textLength="10.85" lengthAdjust="spacingAndGlyphs">-6</text>
<text x="652.56" y="335.1" font-size="11" fill="#0a0a18" stroke="#0a0a18" stroke-width="0.12" textLength="6.12" lengthAdjust="spacingAndGlyphs">0</text>
<text x="708.9" y="335.1" font-size="11" fill="#0a0a18" stroke="#0a0a18" stroke-width="0.12" textLength="6.12" lengthAdjust="spacingAndGlyphs">6</text>
<text x="762.18" y="335.1" font-size="11" fill="#0a0a18" stroke="#0a0a18" stroke-width="0.12" textLength="12.23" lengthAdjust="spacingAndGlyphs">12</text>
<text x="818.52" y="335.1" font-size="11" fill="#0a0a18" stroke="#0a0a18" stroke-width="0.12" textLength="12.23" lengthAdjust="spacingAndGlyphs">18</text>
<path d="M58.5 379.7V489.5H303M54.5 395.3H58.5M54.5 426.6H58.5M54.5 458H58.5M54.5 489.5H58.5M58.5 489.5V493.5M97.54 489.5V493.5M136.58 489.5V493.5M175.62 489.5V493.5M214.66 489.5V493.5M253.7 489.5V493.5M292.74 489.5V493.5" fill="none" stroke="#8c8c8c" stroke-width="1"/>
<path d="M58.5 409.3 C62.54 409.3 98.88 409.82 107 409.3 C115.12 408.78 150.29 403.62 156 403 C161.71 402.38 172.25 400.8 175.5 401.8 C178.75 402.8 191.75 412.9 195 415 C198.25 417.1 211.22 424.92 214.5 427 C217.78 429.08 231.03 439.33 234.3 440 C237.58 440.67 248.09 436.58 253.8 435 C259.51 433.42 298.72 422.17 302.8 421 L303.2 489.5 L58.5 489.5 Z" fill="#5C86F2"/>
<clipPath id="cp5"><path d="M58.5 409.3 C62.54 409.3 98.88 409.82 107 409.3 C115.12 408.78 150.29 403.62 156 403 C161.71 402.38 172.25 400.8 175.5 401.8 C178.75 402.8 191.75 412.9 195 415 C198.25 417.1 211.22 424.92 214.5 427 C217.78 429.08 231.03 439.33 234.3 440 C237.58 440.67 248.09 436.58 253.8 435 C259.51 433.42 298.72 422.17 302.8 421 L303.2 489.5 L58.5 489.5 Z"/></clipPath>
<path d="M175.5 401.8 C178.1 407.89 189.8 440.9 195 447.5 C200.2 454.1 209.26 447.3 214.5 451.3 C219.74 455.3 229.06 479.67 234.3 477.5 C239.54 475.33 248.6 438.49 253.8 435 C259 431.51 266.77 453.17 273.3 451.3 C279.83 449.43 298.87 425.04 302.8 421 L302.8 410 L175.5 395 Z" fill="#FFFF85" clip-path="url(#cp5)"/>
<path d="M58.5 395.5 C62.54 395.33 98.88 394.02 107 393.5 C115.12 392.98 150.29 389.76 156 389.3 C161.71 388.84 172.25 387.02 175.5 388 C178.75 388.98 191.75 399.12 195 401 C198.25 402.88 211.22 409 214.5 410.5 C217.78 412 231.03 418.29 234.3 419 C237.58 419.71 250.55 419.64 253.8 419 C257.05 418.36 269.22 412.4 273.3 411.3 C277.38 410.2 300.34 406.26 302.8 405.8 L302.8 421 C298.72 422.17 259.51 433.42 253.8 435 C248.09 436.58 237.58 440.67 234.3 440 C231.03 439.33 217.78 429.08 214.5 427 C211.22 424.92 198.25 417.1 195 415 C191.75 412.9 178.75 402.8 175.5 401.8 C172.25 400.8 161.71 402.38 156 403 C150.29 403.62 115.12 408.78 107 409.3 C98.88 409.82 62.54 409.3 58.5 409.3 Z" fill="#94421F"/>
<path d="M175.5 401.8 C178.1 407.89 189.8 440.9 195 447.5 C200.2 454.1 209.26 447.3 214.5 451.3 C219.74 455.3 229.06 479.67 234.3 477.5 C239.54 475.33 248.6 438.49 253.8 435 C259 431.51 266.77 453.17 273.3 451.3 C279.83 449.43 298.87 425.04 302.8 421" fill="none" stroke="#000" stroke-width="1.45" stroke-linejoin="round"/>
<path d="M58.5 395.5 C62.54 395.33 98.88 394.02 107 393.5 C115.12 392.98 150.29 389.76 156 389.3 C161.71 388.84 172.25 387.02 175.5 388 C178.75 388.98 191.75 399.12 195 401 C198.25 402.88 211.22 409 214.5 410.5 C217.78 412 231.03 418.29 234.3 419 C237.58 419.71 250.55 419.64 253.8 419 C257.05 418.36 269.22 412.4 273.3 411.3 C277.38 410.2 300.34 406.26 302.8 405.8" fill="none" stroke="#000" stroke-width="1.45" stroke-linejoin="round"/>
<path d="M58.5 409.3 C62.54 409.3 98.88 409.82 107 409.3 C115.12 408.78 150.29 403.62 156 403 C161.71 402.38 172.25 400.8 175.5 401.8 C178.75 402.8 191.75 412.9 195 415 C198.25 417.1 211.22 424.92 214.5 427 C217.78 429.08 231.03 439.33 234.3 440 C237.58 440.67 248.09 436.58 253.8 435 C259.51 433.42 298.72 422.17 302.8 421" fill="none" stroke="#000" stroke-width="1.45" stroke-linejoin="round"/>
<path d="M55.7 395.5l2.8 -2.8l2.8 2.8l-2.8 2.8zM104.2 393.5l2.8 -2.8l2.8 2.8l-2.8 2.8zM153.2 389.3l2.8 -2.8l2.8 2.8l-2.8 2.8zM172.7 388l2.8 -2.8l2.8 2.8l-2.8 2.8zM192.2 401l2.8 -2.8l2.8 2.8l-2.8 2.8zM211.7 410.5l2.8 -2.8l2.8 2.8l-2.8 2.8zM231.5 419l2.8 -2.8l2.8 2.8l-2.8 2.8zM251 419l2.8 -2.8l2.8 2.8l-2.8 2.8zM270.5 411.3l2.8 -2.8l2.8 2.8l-2.8 2.8zM300 405.8l2.8 -2.8l2.8 2.8l-2.8 2.8zM55.7 409.3l2.8 -2.8l2.8 2.8l-2.8 2.8zM104.2 409.3l2.8 -2.8l2.8 2.8l-2.8 2.8zM153.2 403l2.8 -2.8l2.8 2.8l-2.8 2.8zM172.7 401.8l2.8 -2.8l2.8 2.8l-2.8 2.8zM192.2 415l2.8 -2.8l2.8 2.8l-2.8 2.8zM211.7 427l2.8 -2.8l2.8 2.8l-2.8 2.8zM231.5 440l2.8 -2.8l2.8 2.8l-2.8 2.8zM251 435l2.8 -2.8l2.8 2.8l-2.8 2.8zM300 421l2.8 -2.8l2.8 2.8l-2.8 2.8zM192.2 447.5l2.8 -2.8l2.8 2.8l-2.8 2.8zM211.7 451.3l2.8 -2.8l2.8 2.8l-2.8 2.8zM231.5 477.5l2.8 -2.8l2.8 2.8l-2.8 2.8zM270.5 451.3l2.8 -2.8l2.8 2.8l-2.8 2.8z" fill="#000"/>
<path d="M166.3 386V379.5H263.4V412.5" fill="none" stroke="#a6a6a6" stroke-width="0.9"/>
<path d="M130.5 376.3L168.21 384.83" stroke="#111" stroke-width="1.4" fill="none"/>
<path d="M172.5 385.8L167.77 386.78L168.65 382.88z" fill="#111"/>
<text x="36.8" y="375" font-size="15" fill="#0a0a18" font-weight="bold" textLength="20" lengthAdjust="spacingAndGlyphs">(e)</text>
<text x="78.8" y="379.9" font-size="11.7" fill="#0a0a18" stroke="#0a0a18" stroke-width="0.35" textLength="50" lengthAdjust="spacingAndGlyphs">Windrow</text>
<text x="183.8" y="376.7" font-size="11.7" fill="#0a0a18" stroke="#0a0a18" stroke-width="0.35" textLength="68.7" lengthAdjust="spacingAndGlyphs">10 m Cutline</text>
<text x="68" y="405.4" font-size="11.7" fill="#1c0a08" stroke="#1c0a08" stroke-width="0.35" textLength="64.5" lengthAdjust="spacingAndGlyphs">Active Layer</text>
<text x="90" y="452.4" font-size="11.7" fill="#0a0a18" stroke="#0a0a18" stroke-width="0.35" textLength="60" lengthAdjust="spacingAndGlyphs">Permafrost</text>
<text x="198" y="442.9" font-size="11.7" fill="#0a0a18" stroke="#0a0a18" stroke-width="0.35" textLength="23.3" lengthAdjust="spacingAndGlyphs">Talik</text>
<text x="63" y="486.9" font-size="11.7" fill="#0a0a18" stroke="#0a0a18" stroke-width="0.35" textLength="29" lengthAdjust="spacingAndGlyphs">NNW</text>
<text x="283" y="487.4" font-size="11.7" fill="#0a0a18" stroke="#0a0a18" stroke-width="0.35" textLength="19" lengthAdjust="spacingAndGlyphs">SSE</text>
<text x="38.88" y="398.8" font-size="11" fill="#0a0a18" stroke="#0a0a18" stroke-width="0.12" textLength="6.12" lengthAdjust="spacingAndGlyphs">0</text>
<text x="34.15" y="430.1" font-size="11" fill="#0a0a18" stroke="#0a0a18" stroke-width="0.12" textLength="10.85" lengthAdjust="spacingAndGlyphs">-1</text>
<text x="34.15" y="461.5" font-size="11" fill="#0a0a18" stroke="#0a0a18" stroke-width="0.12" textLength="10.85" lengthAdjust="spacingAndGlyphs">-2</text>
<text x="34.15" y="493" font-size="11" fill="#0a0a18" stroke="#0a0a18" stroke-width="0.12" textLength="10.85" lengthAdjust="spacingAndGlyphs">-3</text>
<text x="50.02" y="515.4" font-size="11" fill="#0a0a18" stroke="#0a0a18" stroke-width="0.12" textLength="16.96" lengthAdjust="spacingAndGlyphs">-16</text>
<text x="89.06" y="515.4" font-size="11" fill="#0a0a18" stroke="#0a0a18" stroke-width="0.12" textLength="16.96" lengthAdjust="spacingAndGlyphs">-12</text>
<text x="131.16" y="515.4" font-size="11" fill="#0a0a18" stroke="#0a0a18" stroke-width="0.12" textLength="10.85" lengthAdjust="spacingAndGlyphs">-8</text>
<text x="170.2" y="515.4" font-size="11" fill="#0a0a18" stroke="#0a0a18" stroke-width="0.12" textLength="10.85" lengthAdjust="spacingAndGlyphs">-4</text>
<text x="211.6" y="515.4" font-size="11" fill="#0a0a18" stroke="#0a0a18" stroke-width="0.12" textLength="6.12" lengthAdjust="spacingAndGlyphs">0</text>
<text x="250.64" y="515.4" font-size="11" fill="#0a0a18" stroke="#0a0a18" stroke-width="0.12" textLength="6.12" lengthAdjust="spacingAndGlyphs">4</text>
<text x="289.68" y="515.4" font-size="11" fill="#0a0a18" stroke="#0a0a18" stroke-width="0.12" textLength="6.12" lengthAdjust="spacingAndGlyphs">8</text>
<path d="M486.3 379.7V488.5H772.3M482.3 395H486.3M482.3 426.3H486.3M482.3 457.5H486.3M482.3 488.5H486.3M486.3 488.5V492.5M522.06 488.5V492.5M557.82 488.5V492.5M593.58 488.5V492.5M629.34 488.5V492.5M665.1 488.5V492.5M700.86 488.5V492.5M736.62 488.5V492.5M772.38 488.5V492.5" fill="none" stroke="#8c8c8c" stroke-width="1"/>
<path d="M494.5 422.5 C495 422.3 492.53 422.83 497.5 421.3 C502.47 419.77 515.38 414.02 524.3 413.3 C533.22 412.58 543.58 413.47 551 417 C558.42 420.53 557.75 432.53 568.8 434.5 C579.85 436.47 606.27 433 617.3 428.8 C628.33 424.6 627.55 413.55 635 409.3 C642.45 405.05 653.03 404.1 662 403.3 C670.97 402.5 679.88 404.08 688.8 404.5 C697.72 404.92 706.55 405.33 715.5 405.8 C724.45 406.27 733.5 406.72 742.5 407.3 C751.5 407.88 765 408.97 769.5 409.3 L771 488.5 L494.5 488.5 Z" fill="#5C86F2"/>
<clipPath id="cp6"><path d="M494.5 422.5 C495 422.3 492.53 422.83 497.5 421.3 C502.47 419.77 515.38 414.02 524.3 413.3 C533.22 412.58 543.58 413.47 551 417 C558.42 420.53 557.75 432.53 568.8 434.5 C579.85 436.47 606.27 433 617.3 428.8 C628.33 424.6 627.55 413.55 635 409.3 C642.45 405.05 653.03 404.1 662 403.3 C670.97 402.5 679.88 404.08 688.8 404.5 C697.72 404.92 706.55 405.33 715.5 405.8 C724.45 406.27 733.5 406.72 742.5 407.3 C751.5 407.88 765 408.97 769.5 409.3 L771 488.5 L494.5 488.5 Z"/></clipPath>
<path d="M554.8 423.5 C555.43 425.43 557.58 430.49 559.5 438 C561.42 445.51 567.91 474.23 569.2 479.8 L571.3 488.5 L609.5 488.5 L611.3 473.5 C612.11 470.47 615.57 457.4 617.4 450.8 C619.23 444.2 623.99 427.57 625 424 L625 400 L555 405 Z" fill="#FFFF85" clip-path="url(#cp6)"/>
<path d="M494.5 404.2 C495 404.08 492.53 404.15 497.5 403.5 C502.47 402.85 515.38 400.5 524.3 400.3 C533.22 400.1 543.58 399.52 551 402.3 C558.42 405.08 563.75 414.42 568.8 417 C573.85 419.58 577.18 417.67 581.3 417.8 C585.42 417.93 589.47 418.97 593.5 417.8 C597.53 416.63 601.53 413.02 605.5 410.8 C609.47 408.58 612.38 407.13 617.3 404.5 C622.22 401.87 627.55 397.7 635 395 C642.45 392.3 653.03 389.13 662 388.3 C670.97 387.47 679.88 389.3 688.8 390 C697.72 390.7 706.55 391.87 715.5 392.5 C724.45 393.13 733.5 393.38 742.5 393.8 C751.5 394.22 765 394.8 769.5 395 L769.5 409.3 C765 408.97 751.5 407.88 742.5 407.3 C733.5 406.72 724.45 406.27 715.5 405.8 C706.55 405.33 697.72 404.92 688.8 404.5 C679.88 404.08 670.97 402.5 662 403.3 C653.03 404.1 642.45 405.05 635 409.3 C627.55 413.55 628.33 424.6 617.3 428.8 C606.27 433 579.85 436.47 568.8 434.5 C557.75 432.53 558.42 420.53 551 417 C543.58 413.47 533.22 412.58 524.3 413.3 C515.38 414.02 502.47 419.77 497.5 421.3 C492.53 422.83 495 422.3 494.5 422.5 Z" fill="#94421F"/>
<path d="M554.8 423.5 C555.43 425.43 557.58 430.49 559.5 438 C561.42 445.51 567.91 474.23 569.2 479.8" fill="none" stroke="#000" stroke-width="1.45" stroke-linejoin="round"/>
<path d="M625 424 C623.99 427.57 619.23 444.2 617.4 450.8 C615.57 457.4 612.11 470.47 611.3 473.5" fill="none" stroke="#000" stroke-width="1.45" stroke-linejoin="round"/>
<path d="M494.5 404.2 C495 404.08 492.53 404.15 497.5 403.5 C502.47 402.85 515.38 400.5 524.3 400.3 C533.22 400.1 543.58 399.52 551 402.3 C558.42 405.08 563.75 414.42 568.8 417 C573.85 419.58 577.18 417.67 581.3 417.8 C585.42 417.93 589.47 418.97 593.5 417.8 C597.53 416.63 601.53 413.02 605.5 410.8 C609.47 408.58 612.38 407.13 617.3 404.5 C622.22 401.87 627.55 397.7 635 395 C642.45 392.3 653.03 389.13 662 388.3 C670.97 387.47 679.88 389.3 688.8 390 C697.72 390.7 706.55 391.87 715.5 392.5 C724.45 393.13 733.5 393.38 742.5 393.8 C751.5 394.22 765 394.8 769.5 395" fill="none" stroke="#000" stroke-width="1.45" stroke-linejoin="round"/>
<path d="M494.5 422.5 C495 422.3 492.53 422.83 497.5 421.3 C502.47 419.77 515.38 414.02 524.3 413.3 C533.22 412.58 543.58 413.47 551 417 C558.42 420.53 557.75 432.53 568.8 434.5 C579.85 436.47 606.27 433 617.3 428.8 C628.33 424.6 627.55 413.55 635 409.3 C642.45 405.05 653.03 404.1 662 403.3 C670.97 402.5 679.88 404.08 688.8 404.5 C697.72 404.92 706.55 405.33 715.5 405.8 C724.45 406.27 733.5 406.72 742.5 407.3 C751.5 407.88 765 408.97 769.5 409.3" fill="none" stroke="#000" stroke-width="1.45" stroke-linejoin="round"/>
<path d="M494.7 403.5l2.8 -2.8l2.8 2.8l-2.8 2.8zM521.5 400.3l2.8 -2.8l2.8 2.8l-2.8 2.8zM548.2 402.3l2.8 -2.8l2.8 2.8l-2.8 2.8zM566 417l2.8 -2.8l2.8 2.8l-2.8 2.8zM578.5 417.8l2.8 -2.8l2.8 2.8l-2.8 2.8zM590.7 417.8l2.8 -2.8l2.8 2.8l-2.8 2.8zM602.7 410.8l2.8 -2.8l2.8 2.8l-2.8 2.8zM614.5 404.5l2.8 -2.8l2.8 2.8l-2.8 2.8zM632.2 395l2.8 -2.8l2.8 2.8l-2.8 2.8zM659.2 388.3l2.8 -2.8l2.8 2.8l-2.8 2.8zM686 390l2.8 -2.8l2.8 2.8l-2.8 2.8zM712.7 392.5l2.8 -2.8l2.8 2.8l-2.8 2.8zM739.7 393.8l2.8 -2.8l2.8 2.8l-2.8 2.8zM766.7 395l2.8 -2.8l2.8 2.8l-2.8 2.8zM494.7 421.3l2.8 -2.8l2.8 2.8l-2.8 2.8zM521.5 413.3l2.8 -2.8l2.8 2.8l-2.8 2.8zM548.2 417l2.8 -2.8l2.8 2.8l-2.8 2.8zM566 434.5l2.8 -2.8l2.8 2.8l-2.8 2.8zM614.5 428.8l2.8 -2.8l2.8 2.8l-2.8 2.8zM632.2 409.3l2.8 -2.8l2.8 2.8l-2.8 2.8zM659.2 403.3l2.8 -2.8l2.8 2.8l-2.8 2.8zM686 404.5l2.8 -2.8l2.8 2.8l-2.8 2.8zM712.7 405.8l2.8 -2.8l2.8 2.8l-2.8 2.8zM739.7 407.3l2.8 -2.8l2.8 2.8l-2.8 2.8zM766.7 409.3l2.8 -2.8l2.8 2.8l-2.8 2.8zM614.6 450.8l2.8 -2.8l2.8 2.8l-2.8 2.8z" fill="#000"/>
<path d="M559.5 406V379.5H627V400" fill="none" stroke="#a6a6a6" stroke-width="0.9"/>
<text x="468.8" y="375" font-size="15" fill="#0a0a18" font-weight="bold" textLength="15.5" lengthAdjust="spacingAndGlyphs">(f)</text>
<text x="559.3" y="377.4" font-size="11.7" fill="#0a0a18" stroke="#0a0a18" stroke-width="0.35" textLength="72" lengthAdjust="spacingAndGlyphs">7.5 m Cutline</text>
<text x="662.3" y="399.2" font-size="11.7" fill="#1c0a08" stroke="#1c0a08" stroke-width="0.35" textLength="65" lengthAdjust="spacingAndGlyphs" transform="rotate(4.5 662.3 399.2)">Active Layer</text>
<text x="657.3" y="447.4" font-size="11.7" fill="#0a0a18" stroke="#0a0a18" stroke-width="0.35" textLength="59.7" lengthAdjust="spacingAndGlyphs">Permafrost</text>
<text x="575" y="461.7" font-size="11.7" fill="#0a0a18" stroke="#0a0a18" stroke-width="0.35" textLength="29.5" lengthAdjust="spacingAndGlyphs">Talik?</text>
<text x="497.5" y="486.9" font-size="11.7" fill="#0a0a18" stroke="#0a0a18" stroke-width="0.35" textLength="10.5" lengthAdjust="spacingAndGlyphs">W</text>
<text x="762.8" y="486.9" font-size="11.7" fill="#0a0a18" stroke="#0a0a18" stroke-width="0.35" textLength="5" lengthAdjust="spacingAndGlyphs">E</text>
<text x="466.38" y="398.5" font-size="11" fill="#0a0a18" stroke="#0a0a18" stroke-width="0.12" textLength="6.12" lengthAdjust="spacingAndGlyphs">0</text>
<text x="461.65" y="429.8" font-size="11" fill="#0a0a18" stroke="#0a0a18" stroke-width="0.12" textLength="10.85" lengthAdjust="spacingAndGlyphs">-1</text>
<text x="461.65" y="461" font-size="11" fill="#0a0a18" stroke="#0a0a18" stroke-width="0.12" textLength="10.85" lengthAdjust="spacingAndGlyphs">-2</text>
<text x="461.65" y="492" font-size="11" fill="#0a0a18" stroke="#0a0a18" stroke-width="0.12" textLength="10.85" lengthAdjust="spacingAndGlyphs">-3</text>
<text x="477.82" y="514.6" font-size="11" fill="#0a0a18" stroke="#0a0a18" stroke-width="0.12" textLength="16.96" lengthAdjust="spacingAndGlyphs">-12</text>
<text x="516.64" y="514.6" font-size="11" fill="#0a0a18" stroke="#0a0a18" stroke-width="0.12" textLength="10.85" lengthAdjust="spacingAndGlyphs">-8</text>
<text x="552.4" y="514.6" font-size="11" fill="#0a0a18" stroke="#0a0a18" stroke-width="0.12" textLength="10.85" lengthAdjust="spacingAndGlyphs">-4</text>
<text x="590.52" y="514.6" font-size="11" fill="#0a0a18" stroke="#0a0a18" stroke-width="0.12" textLength="6.12" lengthAdjust="spacingAndGlyphs">0</text>
<text x="626.28" y="514.6" font-size="11" fill="#0a0a18" stroke="#0a0a18" stroke-width="0.12" textLength="6.12" lengthAdjust="spacingAndGlyphs">4</text>
<text x="662.04" y="514.6" font-size="11" fill="#0a0a18" stroke="#0a0a18" stroke-width="0.12" textLength="6.12" lengthAdjust="spacingAndGlyphs">8</text>
<text x="694.74" y="514.6" font-size="11" fill="#0a0a18" stroke="#0a0a18" stroke-width="0.12" textLength="12.23" lengthAdjust="spacingAndGlyphs">12</text>
<text x="730.5" y="514.6" font-size="11" fill="#0a0a18" stroke="#0a0a18" stroke-width="0.12" textLength="12.23" lengthAdjust="spacingAndGlyphs">16</text>
<text x="766.26" y="514.6" font-size="11" fill="#0a0a18" stroke="#0a0a18" stroke-width="0.12" textLength="12.23" lengthAdjust="spacingAndGlyphs">20</text>
<text x="0" y="0" font-size="15" font-weight="bold" fill="#000" text-anchor="middle" textLength="155.6" lengthAdjust="spacingAndGlyphs" transform="translate(15.4 266.8) rotate(-90)">Relative Elevation (m)</text>
<text x="281.3" y="542.7" font-size="16" fill="#000" font-weight="bold" textLength="291.7" lengthAdjust="spacingAndGlyphs">Distance from Centre of Disturbance (m)</text>
</svg>
</body></html>
